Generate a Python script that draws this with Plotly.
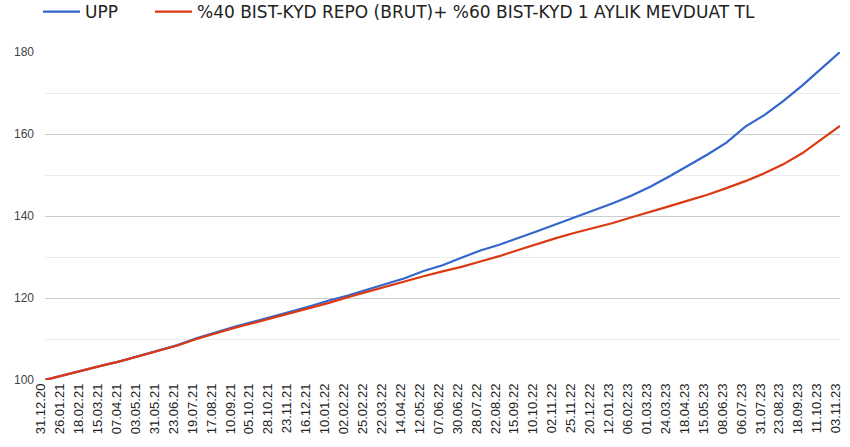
import plotly.graph_objects as go

dates = ["31.12.20","26.01.21","18.02.21","15.03.21","07.04.21","03.05.21","31.05.21","23.06.21",
         "19.07.21","17.08.21","10.09.21","05.10.21","28.10.21","23.11.21","16.12.21","10.01.22",
         "02.02.22","25.02.22","22.03.22","14.04.22","12.05.22","07.06.22","30.06.22","28.07.22",
         "22.08.22","15.09.22","10.10.22","02.11.22","25.11.22","20.12.22","12.01.23","06.02.23",
         "01.03.23","24.03.23","18.04.23","15.05.23","08.06.23","06.07.23","31.07.23","23.08.23",
         "18.09.23","11.10.23","03.11.23"]

upp = [100.0,101.2,102.4,103.5,104.6,105.9,107.3,108.5,110.2,111.6,113.0,114.2,115.4,116.7,118.0,
       119.4,120.6,122.0,123.3,124.8,126.6,128.0,129.8,131.6,133.0,134.6,136.3,138.0,139.7,141.4,
       143.1,145.0,147.2,149.7,152.3,155.0,157.9,161.8,164.6,168.0,171.8,175.8,180.0]

bench = [100.0,101.2,102.4,103.5,104.6,105.9,107.2,108.4,110.0,111.4,112.7,113.9,115.1,116.3,117.5,
         118.8,120.2,121.5,122.8,124.1,125.3,126.5,127.6,128.9,130.2,131.7,133.2,134.6,135.9,137.1,
         138.3,139.7,141.0,142.4,143.8,145.2,146.8,148.5,150.4,152.6,155.3,158.6,162.0]

names = ["UPP", "%40 BIST-KYD REPO (BRUT)+ %60 BIST-KYD 1 AYLIK MEVDUAT TL"]
colors = ["#3366cc", "#dc3912"]
legends = ["legend", "legend2"]

fig = go.Figure()
for name, vals, c, lg in zip(names, [upp, bench], colors, legends):
    fig.add_trace(go.Scatter(x=dates, y=vals, mode="lines", name=name, legend=lg,
                             line=dict(color=c, width=2.2)))

W, H = 850, 447
legfont = dict(family="DejaVu Sans, sans-serif", size=17, color="#222")
fig.update_layout(
    width=W, height=H,
    margin=dict(l=45, r=10, t=52, b=67),
    paper_bgcolor="white", plot_bgcolor="white",
    font=dict(family="Liberation Sans, Arial, sans-serif", color="#222"),
    showlegend=True,
    legend=dict(orientation="h", x=38 / W, y=1 - 12 / H, xanchor="left", yanchor="middle",
                xref="container", yref="container", font=legfont, itemwidth=37,
                bgcolor="rgba(0,0,0,0)"),
    legend2=dict(orientation="h", x=150 / W, y=1 - 12 / H, xanchor="left", yanchor="middle",
                 xref="container", yref="container", font=legfont, itemwidth=37,
                 bgcolor="rgba(0,0,0,0)"),
    xaxis=dict(type="category", range=[0, 42], showgrid=False, zeroline=False, showline=False,
               tickangle=-90, tickfont=dict(size=13, color="#222"), ticks="",
               ticklabelshift=-4, automargin=False),
    yaxis=dict(range=[100, 180], tickvals=[100, 120, 140, 160, 180], showgrid=True,
               gridcolor="#cccccc", gridwidth=1, zeroline=False, showline=False,
               tickfont=dict(size=12, color="#444"), ticks="", automargin=False,
               ticklabelstandoff=10,
               minor=dict(tickvals=[110, 130, 150, 170], showgrid=True, gridcolor="#ebebeb",
                          gridwidth=1)),
)
fig.write_html("out.html", config={"displayModeBar": False},
               post_script="document.body.style.margin='0';")
